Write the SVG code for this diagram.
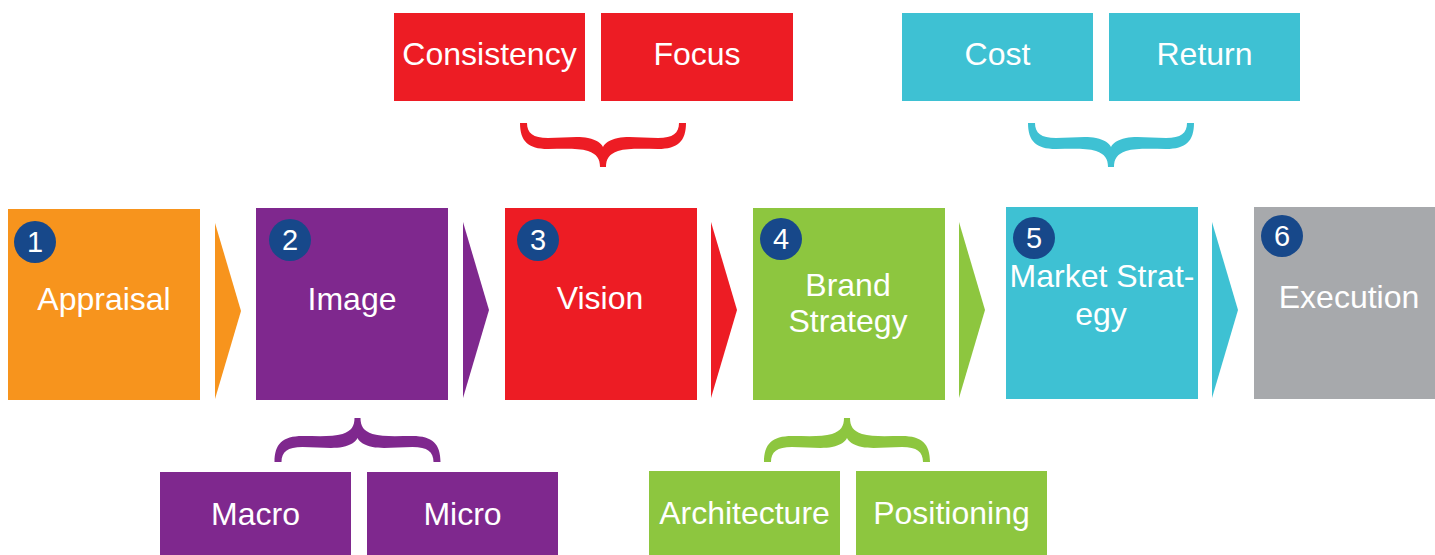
<svg xmlns="http://www.w3.org/2000/svg" width="1435" height="555" viewBox="0 0 1435 555">
<style>
text{font-family:"Liberation Sans",Arial,sans-serif;fill:#fff;text-anchor:middle}
.t{font-size:32px}
.n{font-size:29px}
.num{fill:#17488A}
.or{fill:#F7941D}.pu{fill:#7F288E}.rd{fill:#ED1C24}.gr{fill:#8DC63F}.cy{fill:#3EC1D3}.gy{fill:#A7A9AC}
</style>
<defs>
<path id="brace" d="M -83,0 L -76,0 C -76,10 -70,15 -55,15 C -40,15 -25,13 -15,15 C -6,17 -2,20 0,24 C 2,20 6,17 15,15 C 25,13 40,15 55,15 C 70,15 76,10 76,0 L 83,0 C 83,18 75,26 55,26 C 40,26 25,25 15,28 C 6,31 3,36 3,44 L -3,44 C -3,36 -6,31 -15,28 C -25,25 -40,26 -55,26 C -75,26 -83,18 -83,0 Z"/>
</defs>
<g id="connectors">
<polygon class="or" points="215,223 241,311 215,399"/>
<polygon class="pu" points="463,222 489,310 463,398"/>
<polygon class="rd" points="711,222 737,310 711,398"/>
<polygon class="gr" points="959,222 985,310 959,398"/>
<polygon class="cy" points="1212,222 1238,310 1212,398"/>
<use href="#brace" class="rd" transform="translate(603,123)"/>
<use href="#brace" class="cy" transform="translate(1111,123)"/>
<use href="#brace" class="pu" transform="translate(357.5,462) scale(1,-1)"/>
<use href="#brace" class="gr" transform="translate(847,462) scale(1,-1)"/>
</g>
<g id="step1"><rect class="or" x="8" y="209" width="192" height="191"/><circle class="num" cx="35" cy="242" r="21"/><text class="n" x="35" y="252">1</text><text class="t" x="104" y="310">Appraisal</text></g>
<g id="step2"><rect class="pu" x="256" y="208" width="192" height="192"/><circle class="num" cx="290" cy="240" r="21"/><text class="n" x="290" y="250">2</text><text class="t" x="352" y="310">Image</text></g>
<g id="step3"><rect class="rd" x="505" y="208" width="192" height="192"/><circle class="num" cx="538" cy="240" r="21"/><text class="n" x="538" y="250">3</text><text class="t" x="600" y="309">Vision</text></g>
<g id="step4"><rect class="gr" x="753" y="208" width="192" height="192"/><circle class="num" cx="781" cy="239" r="21"/><text class="n" x="781" y="249">4</text><text class="t" x="848" y="296">Brand</text><text class="t" x="848" y="332">Strategy</text></g>
<g id="step5"><rect class="cy" x="1006" y="207" width="192" height="192"/><circle class="num" cx="1034" cy="238" r="21"/><text class="n" x="1034" y="248">5</text><text class="t" x="1102" y="287">Market Strat-</text><text class="t" x="1101" y="325">egy</text></g>
<g id="step6"><rect class="gy" x="1254" y="207" width="181" height="192"/><circle class="num" cx="1282" cy="236" r="21"/><text class="n" x="1282" y="246">6</text><text class="t" x="1349" y="308">Execution</text></g>
<g id="consistency"><rect class="rd" x="394" y="13" width="191" height="88"/><text class="t" x="489.5" y="65">Consistency</text></g>
<g id="focus"><rect class="rd" x="601" y="13" width="192" height="88"/><text class="t" x="697" y="65">Focus</text></g>
<g id="cost"><rect class="cy" x="902" y="13" width="191" height="88"/><text class="t" x="997.5" y="65">Cost</text></g>
<g id="return"><rect class="cy" x="1109" y="13" width="191" height="88"/><text class="t" x="1204.5" y="65">Return</text></g>
<g id="macro"><rect class="pu" x="160" y="472" width="191" height="83"/><text class="t" x="255.5" y="525">Macro</text></g>
<g id="micro"><rect class="pu" x="367" y="472" width="191" height="83"/><text class="t" x="462.5" y="525">Micro</text></g>
<g id="architecture"><rect class="gr" x="649" y="471" width="191" height="84"/><text class="t" x="744.5" y="524">Architecture</text></g>
<g id="positioning"><rect class="gr" x="856" y="471" width="191" height="84"/><text class="t" x="951.5" y="524">Positioning</text></g>
</svg>
